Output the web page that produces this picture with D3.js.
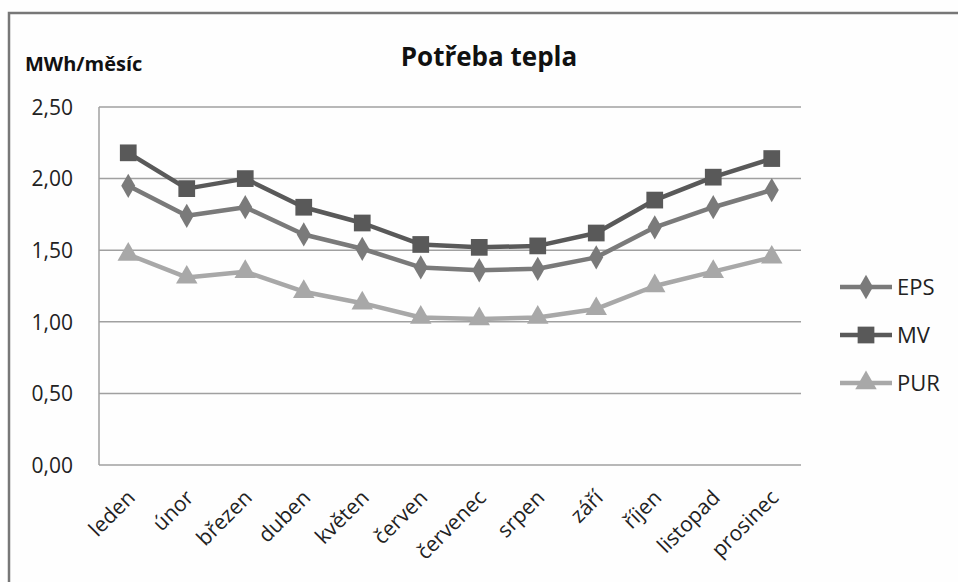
<!DOCTYPE html>
<html>
<head>
<meta charset="utf-8">
<script src="https://cdn.jsdelivr.net/npm/d3@7"></script>
<style>
  body { margin: 0; background: #fff; }
  svg { display: block; font-family: "Open Sans", sans-serif; }
</style>
</head>
<body>
<div id="chart-area"></div>
<script>
// data
var months = ["leden", "únor", "březen", "duben", "květen", "červen",
  "červenec", "srpen", "září", "říjen", "listopad", "prosinec"];
var eps = [1.95, 1.74, 1.80, 1.61, 1.51, 1.38, 1.36, 1.37, 1.45, 1.66, 1.80, 1.92];
var mv  = [2.18, 1.93, 2.00, 1.80, 1.69, 1.54, 1.52, 1.53, 1.62, 1.85, 2.01, 2.14];
var pur = [1.47, 1.31, 1.35, 1.21, 1.13, 1.03, 1.02, 1.03, 1.09, 1.25, 1.35, 1.45];
var seriesNames = ["EPS", "MV", "PUR"];
var yTicks = [0, 0.5, 1, 1.5, 2, 2.5];

var W = 958, H = 582;
var margin = {top: 107, right: 157, bottom: 117, left: 99};
var w = W - margin.left - margin.right;
var h = H - margin.top - margin.bottom;

var series = [
  {name: seriesNames[0], values: eps, color: "#7a7a7a", shape: d3.symbolDiamond, size: 170},
  {name: seriesNames[1], values: mv,  color: "#595959", shape: d3.symbolSquare, size: 280},
  {name: seriesNames[2], values: pur, color: "#a8a8a8", shape: d3.symbolTriangle, size: 200}
];

var svg = d3.select("#chart-area").append("svg")
  .attr("width", W)
  .attr("height", H);

svg.append("rect").attr("width", W).attr("height", H).attr("fill", "#fefefe");

// outer frame (runs off the right/bottom edge)
svg.append("rect")
  .attr("x", 9).attr("y", 13)
  .attr("width", W + 20).attr("height", H + 20)
  .attr("fill", "none")
  .attr("stroke", "#777")
  .attr("stroke-width", 2.5);

var g = svg.append("g")
  .attr("transform", "translate(" + margin.left + "," + margin.top + ")");

var x = d3.scaleBand().domain(months).range([0, w]);
var y = d3.scaleLinear().domain([0, 2.5]).range([h, 0]);

// grid
g.selectAll("line.grid").data(yTicks).enter().append("line")
  .attr("class", "grid")
  .attr("x1", 0).attr("x2", w)
  .attr("y1", d => y(d)).attr("y2", d => y(d))
  .attr("stroke", "#a0a0a0")
  .attr("stroke-width", 1.5);

g.append("line")
  .attr("x1", 0).attr("x2", 0).attr("y1", 0).attr("y2", h)
  .attr("stroke", "#a0a0a0").attr("stroke-width", 1.5);

// y axis
var fmt = d => d3.format(".2f")(d).replace(".", ",");
var yAxis = d3.axisLeft(y).tickValues(yTicks).tickFormat(fmt).tickSize(0).tickPadding(26);
var yg = g.append("g").call(yAxis);
yg.select(".domain").remove();
yg.selectAll("text")
  .attr("font-size", "21px")
  .attr("font-family", "Open Sans, sans-serif")
  .attr("fill", "#222")
  .attr("dy", "0.35em");

// x axis
var xAxis = d3.axisBottom(x).tickSize(0).tickPadding(0);
var xg = g.append("g").attr("transform", "translate(0," + h + ")").call(xAxis);
xg.select(".domain").remove();
xg.selectAll("text")
  .attr("font-size", "21px")
  .attr("font-family", "Open Sans, sans-serif")
  .attr("fill", "#222")
  .attr("text-anchor", "end")
  .attr("y", 0)
  .attr("dy", 0)
  .attr("transform", "translate(8,34) rotate(-45)");

// lines + markers
var line = d3.line()
  .x((d, i) => x(months[i]) + x.bandwidth() / 2)
  .y(d => y(d));

series.forEach(s => {
  g.append("path")
    .datum(s.values)
    .attr("fill", "none")
    .attr("stroke", s.color)
    .attr("stroke-width", 4.5)
    .attr("stroke-linejoin", "round")
    .attr("d", line);

  g.selectAll(null).data(s.values).enter().append("path")
    .attr("d", d3.symbol().type(s.shape).size(s.size))
    .attr("transform", (d, i) => "translate(" + (x(months[i]) + x.bandwidth() / 2) + "," + y(d) + ")")
    .attr("fill", s.color);
});

// legend
var legend = svg.append("g").attr("transform", "translate(840,287)");
series.forEach((s, i) => {
  var row = legend.append("g").attr("transform", "translate(0," + (i * 48) + ")");
  row.append("line")
    .attr("x1", 0).attr("x2", 52)
    .attr("stroke", s.color).attr("stroke-width", 4.5);
  row.append("path")
    .attr("d", d3.symbol().type(s.shape).size(s.size))
    .attr("transform", "translate(26,0)")
    .attr("fill", s.color);
  row.append("text")
    .attr("x", 57).attr("y", 0).attr("dy", "0.36em")
    .attr("font-size", "22px")
    .attr("fill", "#222")
    .text(s.name);
});

// titles
svg.append("text")
  .attr("x", 489).attr("y", 66)
  .attr("text-anchor", "middle")
  .attr("font-size", "26px")
  .attr("font-weight", "bold")
  .attr("fill", "#111")
  .text("Potřeba tepla");

svg.append("text")
  .attr("x", 25).attr("y", 71)
  .attr("font-size", "20px")
  .attr("font-weight", "bold")
  .attr("fill", "#111")
  .text("MWh/měsíc");
</script>
</body>
</html>
